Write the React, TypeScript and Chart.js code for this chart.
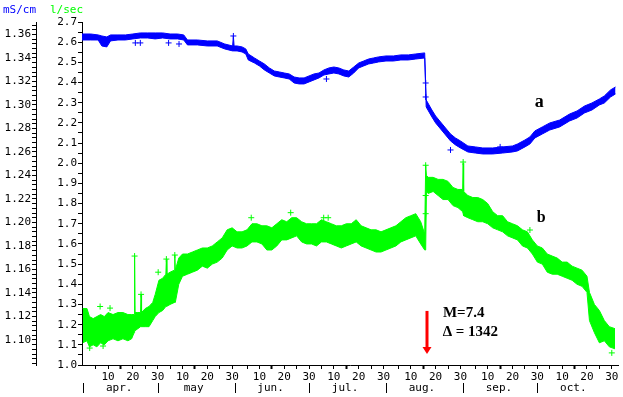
import React, { useEffect, useRef } from 'react';
import { Chart, registerables } from 'chart.js';

Chart.register(...registerables);

// ---------- axis definitions ----------
const monthNames = ['apr.', 'may', 'jun.', 'jul.', 'aug.', 'sep.', 'oct.'];
const monthStart = [0, 30, 61, 91, 122, 153, 183]; // day offset from 1 April
const monthLength = [30, 31, 30, 31, 31, 30, 31];
const dayTickDays = [5, 10, 15, 20, 25, 30];
const dayLabelDays = [10, 20, 30];

const flowLabels = ['1.0', '1.1', '1.2', '1.3', '1.4', '1.5', '1.6', '1.7', '1.8', '1.9', '2.0', '2.1', '2.2', '2.3', '2.4', '2.5', '2.6', '2.7'];
const condLabels = ['1.10', '1.12', '1.14', '1.16', '1.18', '1.20', '1.22', '1.24', '1.26', '1.28', '1.30', '1.32', '1.34', '1.36'];

// ---------- series b : flow (l/sec), band upper / lower edge ----------
const greenDays = [-1.2, 0.5, 1.5, 3, 4.5, 6, 7.5, 9, 11, 13, 15, 17, 18.5, 19.5, 19.7, 19.9, 21, 22.1, 22.3, 22.5, 24, 25.5, 27, 28, 29.5, 31, 32.3, 32.5, 32.7, 34, 35.7, 35.9, 36.1, 37.5, 39, 41, 43, 45, 47, 49, 51, 53, 55, 57, 59, 61, 63, 65, 67, 69, 71, 73, 75, 77, 79, 81, 83, 85, 87, 89, 91, 93, 95, 97, 99, 101, 103, 105, 107, 109, 111, 113, 115, 117, 119, 121, 123, 125, 127, 129, 131, 133, 135, 136.6, 137.0, 137.3, 138, 140, 142, 144, 146, 148, 150, 151.9, 152.1, 152.3, 154, 156, 158, 160, 162, 164, 166, 168, 170, 172, 174, 176, 178, 180, 182, 184, 186, 188, 190, 192, 194, 196, 198, 200, 202, 203, 205, 207, 209, 211, 213.3];
const greenHigh = [1.28, 1.28, 1.24, 1.23, 1.24, 1.25, 1.24, 1.26, 1.25, 1.26, 1.26, 1.25, 1.25, 1.25, 1.54, 1.26, 1.26, 1.26, 1.35, 1.26, 1.28, 1.29, 1.31, 1.35, 1.42, 1.43, 1.45, 1.525, 1.45, 1.46, 1.47, 1.545, 1.47, 1.53, 1.55, 1.55, 1.56, 1.57, 1.58, 1.58, 1.59, 1.61, 1.63, 1.67, 1.68, 1.66, 1.66, 1.67, 1.70, 1.70, 1.69, 1.69, 1.68, 1.70, 1.72, 1.71, 1.73, 1.73, 1.71, 1.70, 1.70, 1.70, 1.72, 1.71, 1.70, 1.69, 1.69, 1.70, 1.70, 1.72, 1.69, 1.68, 1.67, 1.67, 1.66, 1.67, 1.68, 1.69, 1.71, 1.73, 1.74, 1.75, 1.71, 1.65, 1.99, 1.94, 1.93, 1.93, 1.92, 1.92, 1.91, 1.88, 1.87, 1.87, 2.00, 1.86, 1.84, 1.83, 1.83, 1.82, 1.80, 1.76, 1.74, 1.74, 1.71, 1.70, 1.69, 1.67, 1.66, 1.62, 1.59, 1.58, 1.55, 1.54, 1.53, 1.51, 1.51, 1.49, 1.48, 1.47, 1.44, 1.36, 1.30, 1.27, 1.22, 1.19, 1.18];
const greenLow = [1.11, 1.12, 1.09, 1.10, 1.09, 1.11, 1.10, 1.12, 1.13, 1.12, 1.13, 1.12, 1.13, 1.16, 1.17, 1.17, 1.18, 1.19, 1.19, 1.19, 1.19, 1.19, 1.22, 1.24, 1.26, 1.27, 1.29, 1.29, 1.29, 1.30, 1.31, 1.31, 1.31, 1.40, 1.44, 1.45, 1.46, 1.47, 1.49, 1.48, 1.50, 1.51, 1.53, 1.57, 1.59, 1.58, 1.58, 1.59, 1.61, 1.61, 1.60, 1.57, 1.57, 1.59, 1.62, 1.62, 1.63, 1.64, 1.61, 1.60, 1.60, 1.59, 1.61, 1.61, 1.60, 1.59, 1.58, 1.59, 1.60, 1.61, 1.59, 1.58, 1.57, 1.56, 1.56, 1.57, 1.58, 1.59, 1.61, 1.62, 1.63, 1.64, 1.60, 1.57, 1.57, 1.86, 1.85, 1.86, 1.84, 1.82, 1.82, 1.79, 1.78, 1.76, 1.75, 1.74, 1.73, 1.72, 1.71, 1.71, 1.70, 1.68, 1.67, 1.66, 1.64, 1.63, 1.62, 1.59, 1.58, 1.55, 1.51, 1.50, 1.46, 1.45, 1.45, 1.44, 1.43, 1.42, 1.40, 1.39, 1.36, 1.22, 1.16, 1.11, 1.12, 1.09, 1.08];
const greenCrossDays = [1.6, 7, 5.8, 9.8, 19.7, 22.3, 29.2, 32.5, 35.9, 66.7, 82.6, 95.9, 97.7, 137.0, 137.0, 137.0, 152.1, 179, 212];
const greenCrossValues = [1.084, 1.094, 1.29, 1.282, 1.54, 1.35, 1.46, 1.525, 1.545, 1.73, 1.755, 1.73, 1.73, 1.99, 1.75, 1.84, 2.006, 1.669, 1.06];

// ---------- series a : conductivity (mS/cm), band upper / lower edge ----------
const blueDays = [-1.5, 2, 5, 6.5, 8.5, 10, 13, 16, 19, 22, 25, 28, 31, 34, 37, 39.5, 41, 45, 49, 53, 56, 59.2, 59.5, 59.8, 61, 63, 64.5, 65.5, 68, 70, 72, 74, 76, 78, 80, 82, 84, 86, 88, 90, 92, 94, 96, 98, 100, 102, 104, 106, 108, 110, 112, 114, 116, 118, 121, 124, 127, 130, 133, 136.6, 137.2, 139.5, 141, 143, 145, 147, 149, 151, 154, 157, 160, 164, 168, 172, 174, 177, 179, 181, 184, 187, 191, 195, 198, 201, 204, 207, 209, 211.5, 213.5];
const blueHigh = [1.3604, 1.3604, 1.3596, 1.3587, 1.3579, 1.3596, 1.3596, 1.3596, 1.3604, 1.3613, 1.3613, 1.3613, 1.3613, 1.3604, 1.3604, 1.3596, 1.3553, 1.3553, 1.3545, 1.3545, 1.3519, 1.3502, 1.3587, 1.3502, 1.3502, 1.3494, 1.3477, 1.3434, 1.3400, 1.3374, 1.3349, 1.3315, 1.3289, 1.3281, 1.3272, 1.3264, 1.3238, 1.3230, 1.3230, 1.3247, 1.3264, 1.3272, 1.3298, 1.3315, 1.3323, 1.3315, 1.3298, 1.3289, 1.3323, 1.3357, 1.3374, 1.3391, 1.3400, 1.3409, 1.3417, 1.3417, 1.3426, 1.3426, 1.3434, 1.3443, 1.3043, 1.2957, 1.2906, 1.2855, 1.2804, 1.2753, 1.2719, 1.2694, 1.2651, 1.2643, 1.2634, 1.2634, 1.2643, 1.2651, 1.2668, 1.2702, 1.2728, 1.2779, 1.2813, 1.2847, 1.2872, 1.2923, 1.2949, 1.2991, 1.3017, 1.3051, 1.3077, 1.3128, 1.3153];
const blueLow = [1.3553, 1.3553, 1.3553, 1.3502, 1.3494, 1.3545, 1.3553, 1.3553, 1.3562, 1.3570, 1.3570, 1.3562, 1.3570, 1.3562, 1.3562, 1.3553, 1.3511, 1.3511, 1.3502, 1.3502, 1.3477, 1.3460, 1.3460, 1.3460, 1.3460, 1.3451, 1.3434, 1.3383, 1.3357, 1.3332, 1.3298, 1.3272, 1.3247, 1.3238, 1.3230, 1.3221, 1.3187, 1.3179, 1.3179, 1.3196, 1.3213, 1.3230, 1.3255, 1.3264, 1.3272, 1.3264, 1.3247, 1.3238, 1.3272, 1.3315, 1.3332, 1.3349, 1.3357, 1.3366, 1.3374, 1.3374, 1.3383, 1.3383, 1.3391, 1.3400, 1.2983, 1.2898, 1.2847, 1.2796, 1.2745, 1.2694, 1.2660, 1.2634, 1.2600, 1.2591, 1.2583, 1.2583, 1.2591, 1.2600, 1.2609, 1.2643, 1.2668, 1.2719, 1.2753, 1.2787, 1.2813, 1.2864, 1.2889, 1.2932, 1.2957, 1.3000, 1.3017, 1.3068, 1.3094];
const blueCrossDays = [20, 22, 33.4, 37.6, 59.5, 97, 137.0, 137.0, 147, 167];
const blueCrossValues = [1.3528, 1.3528, 1.3528, 1.3519, 1.3587, 1.3221, 1.3187, 1.3068, 1.2617, 1.2643];

// ---------- annotations (data units: day, l/sec) ----------
const labelA = { day: 182.8, flow: 2.30, text: 'a' };
const labelB = { day: 183.6, flow: 1.73, text: 'b' };
const noteM = { day: 152.3, flow: 1.258, text: 'M=7.4' };
const noteD = { day: 155.0, flow: 1.164, text: '\u0394 = 1342' };
const arrowMark = { day: 137.4, fromFlow: 1.268, toFlow: 1.055 };

// ---------- derived tick lists ----------
const xTickValues: number[] = [];
const xTickLabels: string[] = [];
monthStart.forEach((s, m) => {
  dayTickDays.forEach((d) => {
    if (d <= monthLength[m]) {
      xTickValues.push(s + d - 1);
      xTickLabels.push(dayLabelDays.includes(d) ? String(d) : '');
    }
  });
});
const flowLabelValues = flowLabels.map(Number);
const flowTickValues: number[] = [];
for (let i = 0; i <= 34; i++) flowTickValues.push(+(1.0 + i * 0.05).toFixed(2));
const condLabelValues = condLabels.map(Number);
const condTickValues: number[] = [];
for (let i = 0; i <= 72; i++) condTickValues.push(+(1.08 + i * 0.004).toFixed(3));

const MONO = 'DejaVu Sans Mono';
const GREEN = '#00ff00';
const BLUE = '#0000ff';

const pts = (xs: number[], ys: number[]) => xs.map((x, i) => ({ x, y: ys[i] }));

const overlay = {
  id: 'overlay',
  afterDraw(chart: any) {
    const ctx = chart.ctx;
    const { x, yFlow } = chart.scales;
    const area = chart.chartArea;
    ctx.save();
    // unit headers
    ctx.font = `11px '${MONO}'`;
    ctx.textBaseline = 'middle';
    ctx.textAlign = 'left';
    ctx.fillStyle = BLUE;
    ctx.fillText('mS/cm', 3, area.top - 12);
    ctx.fillStyle = GREEN;
    ctx.fillText('l/sec', 50, area.top - 12);
    // month separators and names
    ctx.fillStyle = '#000';
    ctx.strokeStyle = '#000';
    ctx.lineWidth = 1;
    ctx.textAlign = 'center';
    monthStart.forEach((s, m) => {
      const px = Math.round(x.getPixelForValue(s - 1)) + 0.5;
      ctx.beginPath();
      ctx.moveTo(px, area.bottom + 18);
      ctx.lineTo(px, area.bottom + 28);
      ctx.stroke();
      ctx.fillText(monthNames[m], x.getPixelForValue(s + 13.5), area.bottom + 23);
    });
    // curve labels
    ctx.font = `bold 18px 'Liberation Serif'`;
    ctx.fillText(labelA.text, x.getPixelForValue(labelA.day), yFlow.getPixelForValue(labelA.flow));
    ctx.font = `bold 16px 'Liberation Serif'`;
    ctx.fillText(labelB.text, x.getPixelForValue(labelB.day), yFlow.getPixelForValue(labelB.flow));
    ctx.font = `bold 15px 'Liberation Serif'`;
    ctx.fillText(noteM.text, x.getPixelForValue(noteM.day), yFlow.getPixelForValue(noteM.flow));
    ctx.fillText(noteD.text, x.getPixelForValue(noteD.day), yFlow.getPixelForValue(noteD.flow));
    // red arrow
    const ax = Math.round(x.getPixelForValue(arrowMark.day));
    const ay1 = yFlow.getPixelForValue(arrowMark.fromFlow);
    const ay2 = yFlow.getPixelForValue(arrowMark.toFlow);
    ctx.strokeStyle = '#ff0000';
    ctx.fillStyle = '#ff0000';
    ctx.lineWidth = 3;
    ctx.beginPath();
    ctx.moveTo(ax, ay1);
    ctx.lineTo(ax, ay2 - 5);
    ctx.stroke();
    ctx.beginPath();
    ctx.moveTo(ax - 4.5, ay2 - 7);
    ctx.lineTo(ax + 4.5, ay2 - 7);
    ctx.lineTo(ax, ay2);
    ctx.closePath();
    ctx.fill();
    ctx.restore();
  },
};

export default function App() {
  const ref = useRef<HTMLCanvasElement | null>(null);
  useEffect(() => {
    document.body.style.margin = '0';
    if (!ref.current) return;
    const tickFont = { family: MONO, size: 11 };
    const chart = new Chart(ref.current, {
      type: 'line',
      data: {
        datasets: [
          { label: 'b low', data: pts(greenDays, greenLow), yAxisID: 'yFlow', borderColor: GREEN, borderWidth: 1, pointRadius: 0, fill: false, tension: 0 },
          { label: 'b high', data: pts(greenDays, greenHigh), yAxisID: 'yFlow', borderColor: GREEN, backgroundColor: GREEN, borderWidth: 1, pointRadius: 0, fill: '-1', tension: 0 },
          { label: 'a low', data: pts(blueDays, blueLow), yAxisID: 'yCond', borderColor: BLUE, borderWidth: 1, pointRadius: 0, fill: false, tension: 0 },
          { label: 'a high', data: pts(blueDays, blueHigh), yAxisID: 'yCond', borderColor: BLUE, backgroundColor: BLUE, borderWidth: 1, pointRadius: 0, fill: '-1', tension: 0 },
          { label: 'b pts', data: pts(greenCrossDays, greenCrossValues), yAxisID: 'yFlow', showLine: false, pointStyle: 'cross', pointRadius: 3, borderColor: GREEN, borderWidth: 1 },
          { label: 'a pts', data: pts(blueCrossDays, blueCrossValues), yAxisID: 'yCond', showLine: false, pointStyle: 'cross', pointRadius: 3, borderColor: BLUE, borderWidth: 1 },
        ] as any,
      },
      options: {
        animation: false,
        responsive: false,
        devicePixelRatio: 1,
        layout: { padding: { left: 0, top: 22, right: 5, bottom: 0 } },
        plugins: { legend: { display: false }, tooltip: { enabled: false } },
        scales: {
          x: {
            type: 'linear',
            position: 'bottom',
            min: -1.5,
            max: 214.5,
            afterBuildTicks: (s: any) => { s.ticks = xTickValues.map((v) => ({ value: v })); },
            afterFit: (s: any) => { s.height = 32; },
            ticks: {
              autoSkip: false, maxRotation: 0, minRotation: 0, padding: 2, color: '#000', font: tickFont,
              callback: (v: any) => { const i = xTickValues.indexOf(Number(v)); return i >= 0 ? xTickLabels[i] : ''; },
            },
            grid: {
              drawOnChartArea: false, drawTicks: true, tickLength: 4, color: '#000',
              tickWidth: (c: any) => { const v = c.tick ? c.tick.value : 0; const i = xTickValues.indexOf(v); return i >= 0 && (i % 6 === 2) ? 2 : 1; },
            },
            border: { display: true, color: '#000', width: 1 },
          },
          yFlow: {
            type: 'linear',
            position: 'left',
            weight: 1,
            min: 1.0,
            max: 2.7,
            afterBuildTicks: (s: any) => { s.ticks = flowTickValues.map((v) => ({ value: v })); },
            afterFit: (s: any) => { s.width = 46; },
            ticks: {
              autoSkip: false, padding: 1, color: '#000', font: tickFont,
              callback: (v: any) => { const i = flowLabelValues.findIndex((f) => Math.abs(f - Number(v)) < 1e-6); return i >= 0 ? flowLabels[i] : ''; },
            },
            grid: { drawOnChartArea: false, drawTicks: true, tickLength: 4, color: '#000' },
            border: { display: true, color: '#000', width: 1 },
          },
          yCond: {
            type: 'linear',
            position: 'left',
            weight: 10,
            min: 1.0787,
            max: 1.3706,
            afterBuildTicks: (s: any) => { s.ticks = condTickValues.map((v) => ({ value: v })); },
            afterFit: (s: any) => { s.width = 36; },
            ticks: {
              autoSkip: false, padding: 1, color: '#000', font: tickFont,
              callback: (v: any) => { const i = condLabelValues.findIndex((f) => Math.abs(f - Number(v)) < 1e-6); return i >= 0 ? condLabels[i] : ''; },
            },
            grid: { drawOnChartArea: false, drawTicks: true, tickLength: 4, color: '#000' },
            border: { display: true, color: '#000', width: 1 },
          },
        },
      } as any,
      plugins: [overlay],
    });
    return () => chart.destroy();
  }, []);
  return <canvas ref={ref} width={623} height={397} style={{ display: 'block' }} />;
}
